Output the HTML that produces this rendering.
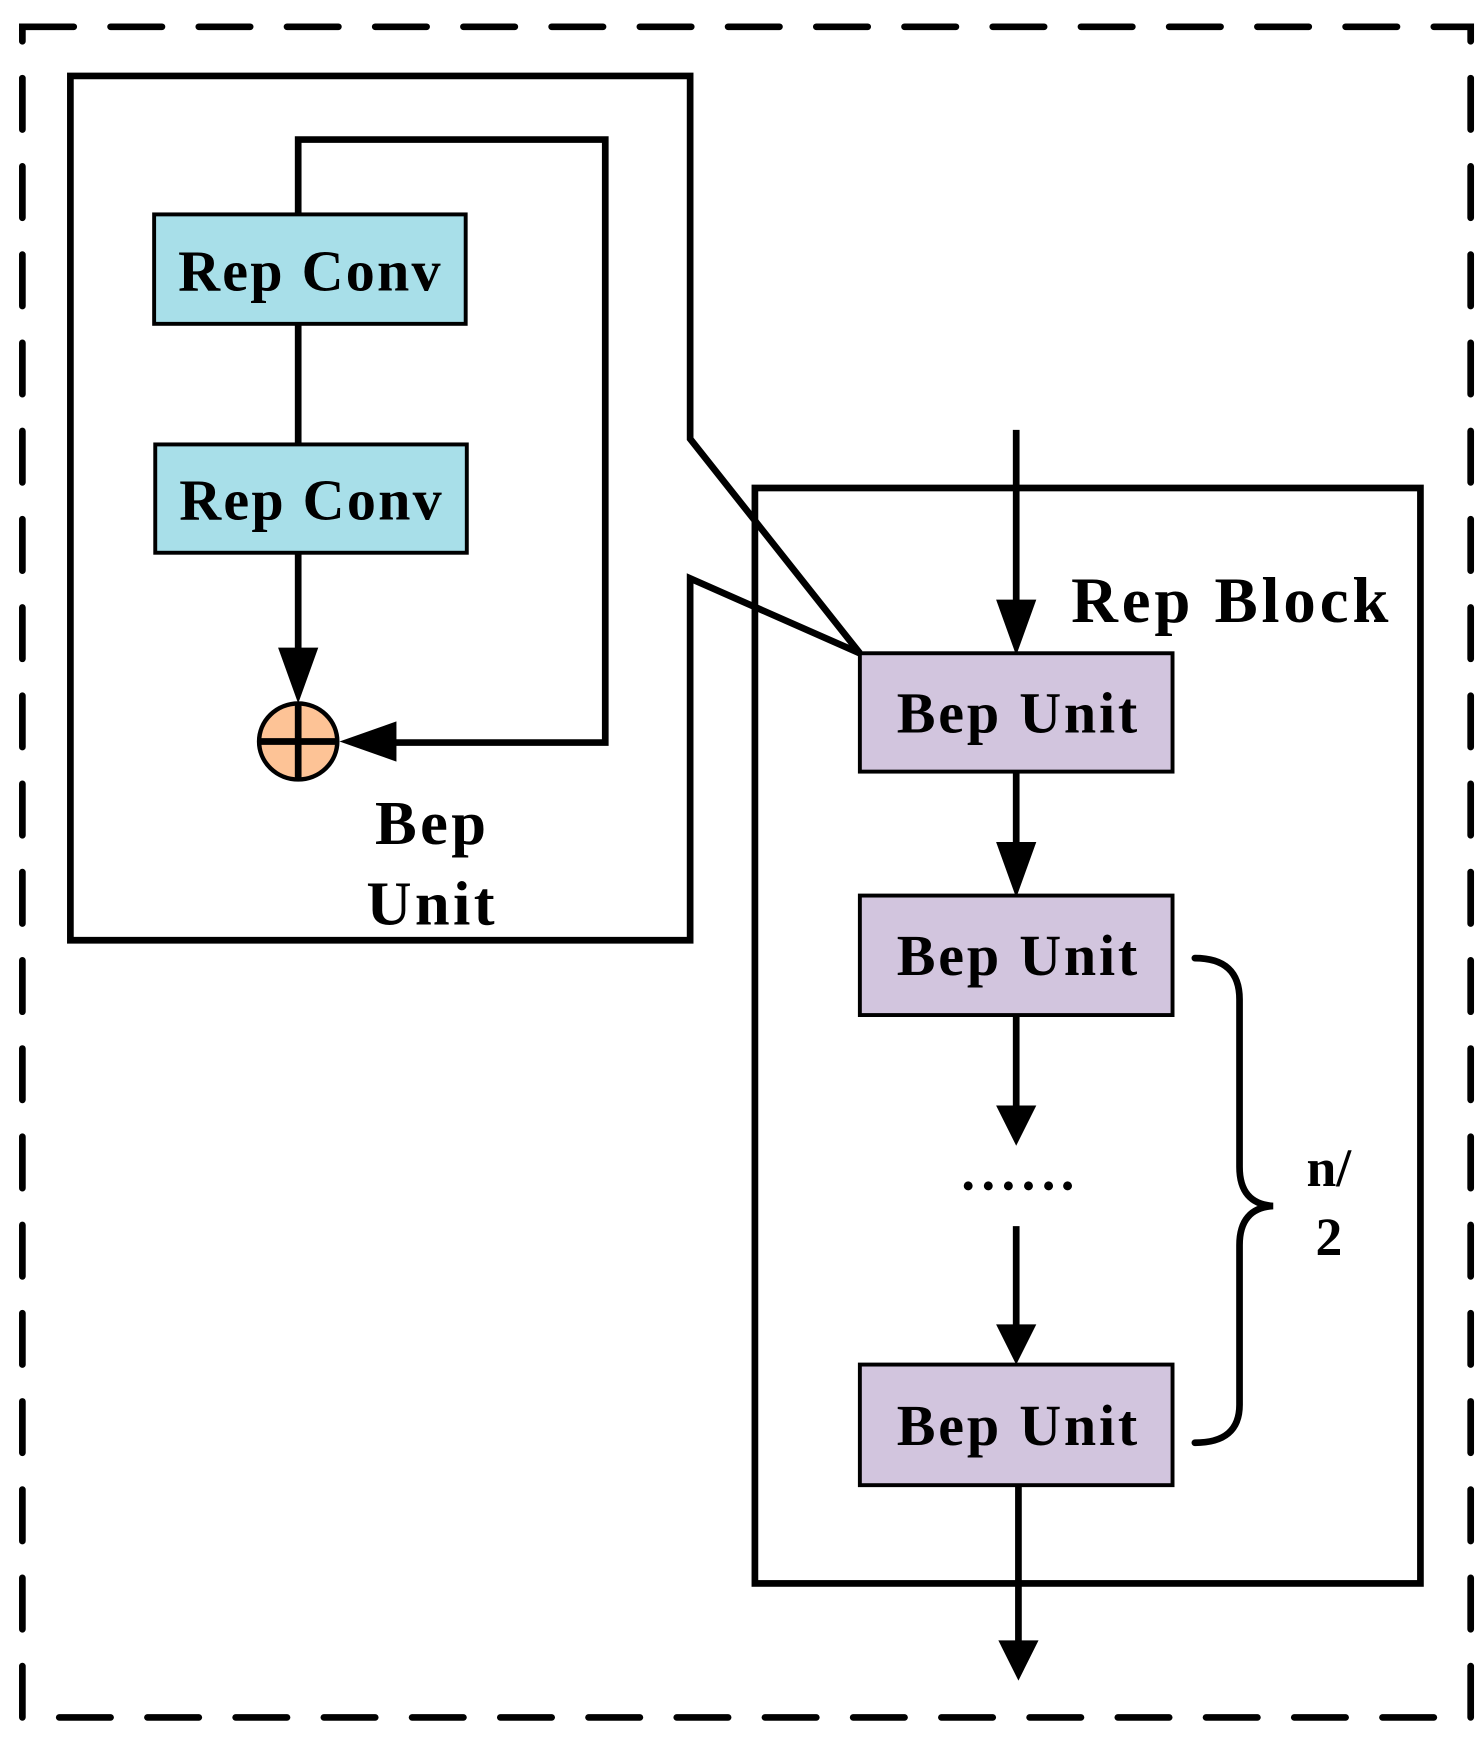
<!DOCTYPE html>
<html><head><meta charset="utf-8"><style>html,body{margin:0;padding:0;background:#fff}svg{display:block}</style></head>
<body>
<svg width="1483" height="1742" viewBox="0 0 1328 1560" xmlns="http://www.w3.org/2000/svg" font-family="'Liberation Serif', serif" font-weight="bold">
<rect x="20" y="24" width="1297" height="1514" fill="none" stroke="#000" stroke-width="6" stroke-dasharray="46 33" stroke-linecap="round"/>
<polyline points="770,585 618,393 618,68 63,68 63,842 618,842 618,518 770,585" fill="none" stroke="#000" stroke-width="6" stroke-linejoin="miter"/>
<polyline points="267,192 267,125 542,125 542,665 330,665" fill="none" stroke="#000" stroke-width="6"/>
<line x1="267" y1="290" x2="267" y2="398" stroke="#000" stroke-width="6"/>
<line x1="267" y1="495" x2="267" y2="590" stroke="#000" stroke-width="6"/>
<rect x="138" y="192" width="279" height="98" fill="#a8dfe9" stroke="#000" stroke-width="3.5"/>
<rect x="139" y="398" width="279" height="97" fill="#a8dfe9" stroke="#000" stroke-width="3.5"/>
<text x="278" y="260" font-size="52" text-anchor="middle" letter-spacing="2">Rep Conv</text>
<text x="279" y="465" font-size="52" text-anchor="middle" letter-spacing="2">Rep Conv</text>
<ellipse cx="267" cy="664" rx="35" ry="34" fill="#fdc396" stroke="#000" stroke-width="4"/>
<line x1="232" y1="664" x2="302" y2="664" stroke="#000" stroke-width="6"/>
<line x1="267" y1="630" x2="267" y2="699" stroke="#000" stroke-width="6"/>
<polygon points="249,580 285,580 267,630" fill="#000"/>
<polygon points="304,664 355,646 355,682" fill="#000"/>
<text x="387" y="756" font-size="56" text-anchor="middle" letter-spacing="3">Bep</text>
<text x="387" y="828" font-size="56" text-anchor="middle" letter-spacing="3">Unit</text>
<rect x="676" y="437" width="596" height="981" fill="none" stroke="#000" stroke-width="6"/>
<text x="1103" y="557" font-size="58" text-anchor="middle" letter-spacing="3.5">Rep Block</text>
<line x1="910" y1="385" x2="910" y2="545" stroke="#000" stroke-width="6"/>
<polygon points="892,537 928,537 910,587" fill="#000"/>
<line x1="910" y1="691" x2="910" y2="760" stroke="#000" stroke-width="6"/>
<polygon points="892,754 928,754 910,804" fill="#000"/>
<line x1="910" y1="909" x2="910" y2="995" stroke="#000" stroke-width="6"/>
<polygon points="892,990 928,990 910,1026" fill="#000"/>
<line x1="910" y1="1098" x2="910" y2="1190" stroke="#000" stroke-width="6"/>
<polygon points="892,1186 928,1186 910,1222" fill="#000"/>
<line x1="912" y1="1330" x2="912" y2="1475" stroke="#000" stroke-width="6"/>
<polygon points="894,1469 930,1469 912,1505" fill="#000"/>
<rect x="770" y="585" width="280" height="106" fill="#d2c5de" stroke="#000" stroke-width="3.5"/>
<rect x="770" y="802" width="280" height="107" fill="#d2c5de" stroke="#000" stroke-width="3.5"/>
<rect x="770" y="1222" width="280" height="108" fill="#d2c5de" stroke="#000" stroke-width="3.5"/>
<text x="912" y="656" font-size="52" text-anchor="middle" letter-spacing="2.5">Bep Unit</text>
<text x="912" y="873" font-size="52" text-anchor="middle" letter-spacing="2.5">Bep Unit</text>
<text x="912" y="1294" font-size="52" text-anchor="middle" letter-spacing="2.5">Bep Unit</text>
<g fill="#000"><circle cx="867" cy="1062" r="4"/><circle cx="885" cy="1062" r="4"/><circle cx="903" cy="1062" r="4"/><circle cx="921" cy="1062" r="4"/><circle cx="939" cy="1062" r="4"/><circle cx="956" cy="1062" r="4"/></g>
<path d="M1070,858 Q1110,858 1110,895 L1110,1045 Q1110,1078 1140,1080 Q1110,1082 1110,1115 L1110,1258 Q1110,1292 1070,1292" fill="none" stroke="#000" stroke-width="6" stroke-linecap="round"/>
<text x="1190" y="1062" font-size="48" text-anchor="middle">n/</text>
<text x="1190" y="1124" font-size="48" text-anchor="middle">2</text>
</svg>
</body></html>
